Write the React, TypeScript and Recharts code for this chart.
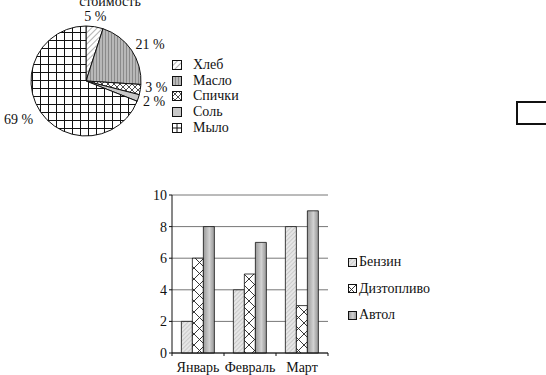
import React from "react";
import { PieChart, Pie, Cell, BarChart, Bar, XAxis, YAxis, CartesianGrid } from "recharts";

// pie: cost shares
const goods = ["Хлеб", "Масло", "Спички", "Соль", "Мыло"];
const shares = [5, 21, 3, 2, 69];

// bars: monthly consumption
const months = ["Январь", "Февраль", "Март"];
const petrol = [2, 4, 8];
const diesel = [6, 5, 3];
const motorOil = [8, 7, 9];
const yTicks = [0, 2, 4, 6, 8, 10];

const pieFills = ["url(#pHatch)", "url(#pStripes)", "url(#pCross)", "#c8c8c8", "url(#pGrid)"];
// legend squares are too small for the full grid, so Мыло gets a single cross there
const pieIconFills = ["url(#pHatch)", "url(#pStripes)", "url(#pCross)", "#c8c8c8", "url(#pGridIcon)"];
const barSeries = [
  { key: "petrol", name: "Бензин", fill: "url(#bHatch)" },
  { key: "diesel", name: "Дизтопливо", fill: "url(#bCross)" },
  { key: "oil", name: "Автол", fill: "url(#bOil)" },
];

const pieData = goods.map((name, i) => ({ name, value: shares[i] }));
const barData = months.map((m, i) => ({ month: m, petrol: petrol[i], diesel: diesel[i], oil: motorOil[i] }));

const FONT = "'Liberation Serif', 'Times New Roman', serif";
const RAD = Math.PI / 180;
const LABEL_GAP = 14;

function PatternDefs() {
  return (
    <defs>
      <pattern id="pHatch" width="4" height="4" patternUnits="userSpaceOnUse" patternTransform="rotate(45)">
        <rect width="4" height="4" fill="#fff" />
        <line x1="0" y1="0" x2="0" y2="4" stroke="#666" strokeWidth="1" />
      </pattern>
      <pattern id="pStripes" width="3" height="3" patternUnits="userSpaceOnUse">
        <rect width="3" height="3" fill="#b8b8b8" />
        <line x1="0.5" y1="0" x2="0.5" y2="3" stroke="#8a8a8a" strokeWidth="1" />
      </pattern>
      <pattern id="pCross" width="6" height="6" patternUnits="userSpaceOnUse">
        <rect width="6" height="6" fill="#fff" />
        <path d="M0,0 L6,6 M6,0 L0,6" stroke="#222" strokeWidth="0.8" />
      </pattern>
      <pattern id="pGrid" width="8" height="8" patternUnits="userSpaceOnUse">
        <rect width="8" height="8" fill="#fff" />
        <path d="M0,0.5 L8,0.5 M0.5,0 L0.5,8" stroke="#111" strokeWidth="1" />
      </pattern>
      <pattern id="pGridIcon" width="10" height="10" patternUnits="userSpaceOnUse">
        <rect width="10" height="10" fill="#fff" />
        <path d="M0,5 L10,5 M5,0 L5,10" stroke="#111" strokeWidth="1" />
      </pattern>
      <pattern id="bHatch" width="3" height="3" patternUnits="userSpaceOnUse" patternTransform="rotate(45)">
        <rect width="3" height="3" fill="#e6e6e6" />
        <line x1="0" y1="0" x2="0" y2="3" stroke="#a0a0a0" strokeWidth="0.8" />
      </pattern>
      <pattern id="bCross" width="11" height="11" patternUnits="userSpaceOnUse" x="-2">
        <rect width="11" height="11" fill="#fff" />
        <path d="M0,0 L11,11 M11,0 L0,11" stroke="#222" strokeWidth="0.9" />
      </pattern>
      <linearGradient id="bOil" x1="0" y1="0" x2="1" y2="0">
        <stop offset="0%" stopColor="#9a9a9a" />
        <stop offset="35%" stopColor="#bdbdbd" />
        <stop offset="55%" stopColor="#d2d2d2" />
        <stop offset="75%" stopColor="#b5b5b5" />
        <stop offset="100%" stopColor="#9a9a9a" />
      </linearGradient>
    </defs>
  );
}

// slice mid angles (clockwise from 12 o'clock), used to keep neighbouring labels apart
const total = shares.reduce((a, b) => a + b, 0);
const midAngles = shares.map((v, i) => {
  const before = shares.slice(0, i).reduce((a, b) => a + b, 0);
  return 90 - (360 * (before + v / 2)) / total;
});

function labelPos(cx: number, cy: number, outer: number, mid: number) {
  const c = Math.cos(mid * RAD);
  const s = Math.sin(mid * RAD);
  const r = outer + (c < 0 ? 9 : 5);
  return { x: cx + r * c, y: cy - r * s - s * 5, c };
}

function pieLabel(props: any) {
  const { cx, cy, outerRadius, value, index } = props;
  const p = labelPos(cx, cy, outerRadius, midAngles[index]);
  let y = p.y;
  const next = midAngles[index + 1];
  if (next !== undefined && p.c > 0) {
    const n = labelPos(cx, cy, outerRadius, next);
    if (n.c > 0 && n.y - y < LABEL_GAP) y = n.y - LABEL_GAP;
  }
  const anchor = Math.abs(p.c) < 0.3 ? "middle" : p.c > 0 ? "start" : "end";
  return (
    <text x={p.x} y={y} textAnchor={anchor} dominantBaseline="central" fontSize={14} fontFamily={FONT} fill="#111">
      {value} %
    </text>
  );
}

function Swatch({ fill, size }: { fill: string; size: number }) {
  return (
    <svg width={size} height={size} style={{ display: "block" }}>
      <rect x={0.5} y={0.5} width={size - 1} height={size - 1} fill={fill} stroke="#111" strokeWidth={1} />
    </svg>
  );
}

function MonthTick(props: any) {
  const { x, y, payload, index } = props;
  const half = payload.offset ?? 26;
  return (
    <g>
      <text x={x} y={y + 14} textAnchor="middle" dominantBaseline="central" fontSize={14} fontFamily={FONT} fill="#111">
        {payload.value}
      </text>
      <line x1={x + half} x2={x + half} y1={y} y2={y + 3} stroke="#111" />
      {index === 0 && <line x1={x - half} x2={x - half} y1={y} y2={y + 3} stroke="#111" />}
    </g>
  );
}

export default function App() {
  return (
    <div style={{ position: "absolute", left: 0, top: 0, width: 546, height: 375, background: "#fff", overflow: "hidden", fontFamily: FONT, color: "#111" }}>
      <div style={{ position: "absolute", left: 60, top: -6, width: 100, textAlign: "center", fontSize: 14 }}>
        стоимость
      </div>

      <div style={{ position: "absolute", left: 0, top: 0 }}>
        <PieChart width={170} height={150} margin={{ top: 0, right: 0, bottom: 0, left: 0 }}>
          <PatternDefs />
          <Pie
            data={pieData}
            dataKey="value"
            cx={86}
            cy={81}
            outerRadius={55}
            startAngle={90}
            endAngle={-270}
            stroke="#111"
            strokeWidth={1}
            label={pieLabel}
            labelLine={false}
            isAnimationActive={false}
          >
            {pieData.map((d, i) => (
              <Cell key={d.name} fill={pieFills[i]} />
            ))}
          </Pie>
        </PieChart>
      </div>

      <div style={{ position: "absolute", left: 172, top: 57, fontSize: 14 }}>
        {goods.map((g, i) => (
          <div key={g} style={{ display: "flex", alignItems: "center", height: 15.7 }}>
            <Swatch fill={pieIconFills[i]} size={10} />
            <span style={{ marginLeft: 11 }}>{g}</span>
          </div>
        ))}
      </div>

      <div style={{ position: "absolute", left: 130, top: 180 }}>
        <BarChart
          width={210}
          height={195}
          data={barData}
          margin={{ top: 15, right: 12, bottom: 2, left: 12 }}
          barCategoryGap="18%"
          barGap={0}
        >
          <PatternDefs />
          <CartesianGrid vertical={false} stroke="#777" />
          <XAxis
            dataKey="month"
            height={20}
            tickLine={false}
            tickSize={0}
            tickMargin={0}
            axisLine={{ stroke: "#111" }}
            tick={<MonthTick />}
            interval={0}
          />
          <YAxis
            width={30}
            domain={[0, 10]}
            ticks={yTicks}
            tickSize={3}
            tickMargin={2}
            axisLine={{ stroke: "#111" }}
            tickLine={{ stroke: "#111" }}
            tick={{ fontSize: 14, fontFamily: FONT, fill: "#111" }}
          />
          {barSeries.map((s) => (
            <Bar key={s.key} dataKey={s.key} name={s.name} fill={s.fill} stroke="#111" strokeWidth={0.8} isAnimationActive={false} />
          ))}
        </BarChart>
      </div>

      <div style={{ position: "absolute", left: 348, top: 249, fontSize: 14 }}>
        {barSeries.map((s) => (
          <div key={s.key} style={{ display: "flex", alignItems: "center", height: 26.5 }}>
            <Swatch fill={s.fill} size={9} />
            <span style={{ marginLeft: 2 }}>{s.name}</span>
          </div>
        ))}
      </div>

      <div style={{ position: "absolute", left: 516, top: 101, width: 28, height: 20, border: "2px solid #111" }} />
    </div>
  );
}
